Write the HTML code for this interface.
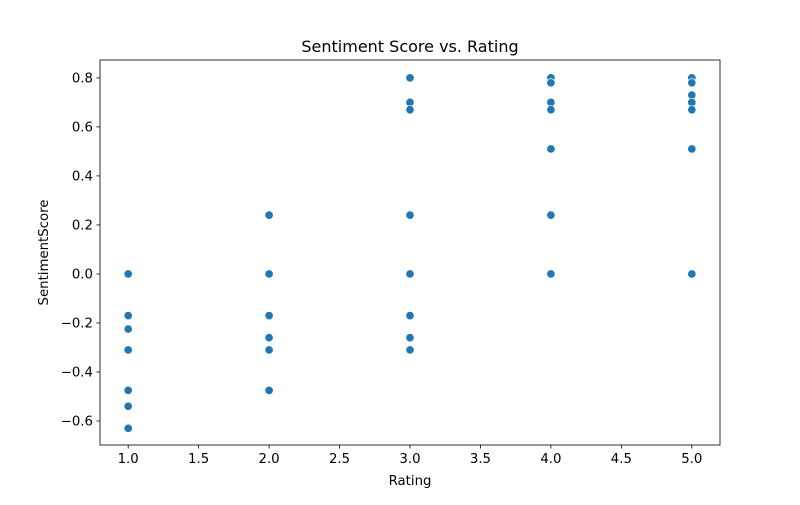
<!DOCTYPE html>
<html><head><meta charset="utf-8"><style>body{margin:0;background:#fff}svg{font-family:"DejaVu Sans","Liberation Sans",sans-serif}</style></head>
<body>
<svg id="chart" width="800" height="500"></svg>
<script>
const ratings=[1,1,1,1,1,1,1,2,2,2,2,2,2,3,3,3,3,3,3,3,3,4,4,4,4,4,4,4,5,5,5,5,5,5,5];
const scores=[0,-0.17,-0.225,-0.31,-0.475,-0.54,-0.63,0.24,0,-0.17,-0.26,-0.31,-0.475,0.8,0.7,0.67,0.24,0,-0.17,-0.26,-0.31,0.8,0.78,0.7,0.67,0.51,0.24,0,0.8,0.78,0.73,0.7,0.67,0.51,0];
const xTicks=[1.0,1.5,2.0,2.5,3.0,3.5,4.0,4.5,5.0];
const yTicks=[-0.6,-0.4,-0.2,0.0,0.2,0.4,0.6,0.8];
const L=100,R=720,T=60,B=445,xmin=0.8,xmax=5.2,ymin=-0.698,ymax=0.873;
const sx=v=>L+(v-xmin)/(xmax-xmin)*(R-L);
const sy=v=>B-(v-ymin)/(ymax-ymin)*(B-T);
const svg=document.getElementById('chart');const NS='http://www.w3.org/2000/svg';
function mk(t,a,txt){const e=document.createElementNS(NS,t);for(const k in a)e.setAttribute(k,a[k]);if(txt!==undefined)e.textContent=txt;svg.appendChild(e);return e;}
const fmt=v=>v.toFixed(1).replace('-','\u2212');
xTicks.forEach(v=>{const x=sx(v);
const l=mk('line',{x1:x,x2:x,y1:B,y2:B+3.5,stroke:'#000','stroke-width':0.8});


const t=mk('text',{x:x,y:B+18,'font-size':13.3,'text-anchor':'middle'},fmt(v));

});
yTicks.forEach(v=>{const y=sy(v);
const l=mk('line',{x1:L-3.5,x2:L,y1:y,y2:y,stroke:'#000','stroke-width':0.8});


const t=mk('text',{x:L-7,y:y+4.5,'font-size':13.3,'text-anchor':'end'},fmt(v));

});
ratings.forEach((r,i)=>{const c=mk('circle',{cx:sx(r),cy:sy(scores[i]),r:4.2,fill:'#1f77b4',stroke:'#fff','stroke-width':0.7});

});
const f=mk('rect',{x:L,y:T,width:R-L,height:B-T,fill:'none',stroke:'#000','stroke-width':0.8});


const ti=mk('text',{x:(L+R)/2,y:52,'font-size':16,'text-anchor':'middle'},'Sentiment Score vs. Rating');


const xl=mk('text',{x:(L+R)/2,y:485,'font-size':13.3,'text-anchor':'middle'},'Rating');


const yl=mk('text',{x:48,y:(T+B)/2,'font-size':13.3,'text-anchor':'middle',transform:'rotate(-90 48 '+(T+B)/2+')'},'SentimentScore');


</script>
</body></html>
